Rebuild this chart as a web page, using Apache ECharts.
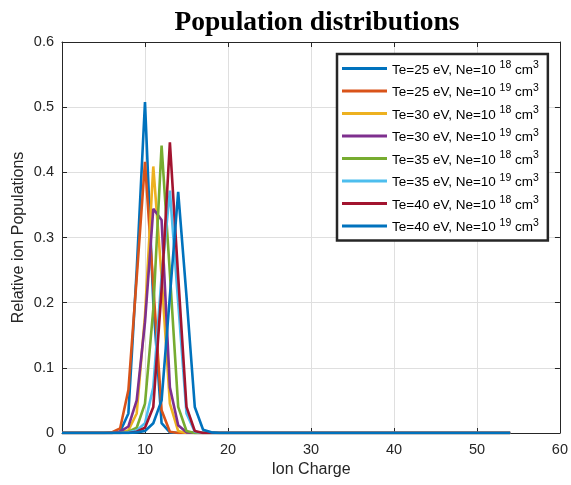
<!DOCTYPE html>
<html>
<head>
<meta charset="utf-8">
<script src="https://cdn.jsdelivr.net/npm/echarts@6/dist/echarts.min.js"></script>
<style>html,body{margin:0;padding:0;background:#fff}#c{width:571px;height:485px}</style>
</head>
<body>
<div id="c"></div>
<script>
// Ion charge states 0..54
var charges = [0,1,2,3,4,5,6,7,8,9,10,11,12,13,14,15,16,17,18,19,20,21,22,23,24,25,26,27,28,29,30,31,32,33,34,35,36,37,38,39,40,41,42,43,44,45,46,47,48,49,50,51,52,53,54];
//              0 1 2 3 4 5 6      7      8      9      10     11     12     13     14     15     16     17     18    19..54
var te25ne18 = [0,0,0,0,0,0,0,    0.002, 0.03,  0.25,  0.508, 0.2,   0.015, 0.001, 0,     0,     0,     0,     0,    0,0,0,0,0,0,0,0,0,0,0,0,0,0,0,0,0,0,0,0,0,0,0,0,0,0,0,0,0,0,0,0,0,0,0,0];
var te25ne19 = [0,0,0,0,0,0,0.001,0.007, 0.066, 0.238, 0.416, 0.225, 0.035, 0.002, 0,     0,     0,     0,     0,    0,0,0,0,0,0,0,0,0,0,0,0,0,0,0,0,0,0,0,0,0,0,0,0,0,0,0,0,0,0,0,0,0,0,0,0];
var te30ne18 = [0,0,0,0,0,0,0,    0.001, 0.004, 0.03,  0.18,  0.409, 0.24,  0.045, 0.003, 0,     0,     0,     0,    0,0,0,0,0,0,0,0,0,0,0,0,0,0,0,0,0,0,0,0,0,0,0,0,0,0,0,0,0,0,0,0,0,0,0,0];
var te30ne19 = [0,0,0,0,0,0,0,    0.002, 0.01,  0.05,  0.17,  0.344, 0.327, 0.07,  0.012, 0.001, 0,     0,     0,    0,0,0,0,0,0,0,0,0,0,0,0,0,0,0,0,0,0,0,0,0,0,0,0,0,0,0,0,0,0,0,0,0,0,0,0];
var te35ne18 = [0,0,0,0,0,0,0,    0,     0.002, 0.008, 0.045, 0.19,  0.441, 0.245, 0.04,  0.003, 0,     0,     0,    0,0,0,0,0,0,0,0,0,0,0,0,0,0,0,0,0,0,0,0,0,0,0,0,0,0,0,0,0,0,0,0,0,0,0,0];
var te35ne19 = [0,0,0,0,0,0,0,    0,     0.001, 0.004, 0.015, 0.07,  0.24,  0.372, 0.2,   0.03,  0.002, 0,     0,    0,0,0,0,0,0,0,0,0,0,0,0,0,0,0,0,0,0,0,0,0,0,0,0,0,0,0,0,0,0,0,0,0,0,0,0];
var te40ne18 = [0,0,0,0,0,0,0,    0,     0,     0.002, 0.008, 0.04,  0.22,  0.446, 0.24,  0.04,  0.003, 0,     0,    0,0,0,0,0,0,0,0,0,0,0,0,0,0,0,0,0,0,0,0,0,0,0,0,0,0,0,0,0,0,0,0,0,0,0,0];
var te40ne19 = [0,0,0,0,0,0,0,    0,     0,     0.001, 0.003, 0.015, 0.05,  0.21,  0.37,  0.21,  0.04,  0.005, 0.001,0,0,0,0,0,0,0,0,0,0,0,0,0,0,0,0,0,0,0,0,0,0,0,0,0,0,0,0,0,0,0,0,0,0,0,0];

var seriesValues = [te25ne18, te25ne19, te30ne18, te30ne19, te35ne18, te35ne19, te40ne18, te40ne19];
var teLabels = ['25','25','30','30','35','35','40','40'];
var neExponents = ['18','19','18','19','18','19','18','19'];
var colors = ['#0072BD','#D95319','#EDB120','#7E2F8E','#77AC30','#4DBEEE','#A2142F','#0072BD'];
var xTicks = [0,10,20,30,40,50,60];
var yTicks = [0,0.1,0.2,0.3,0.4,0.5,0.6];

var names = teLabels.map(function(t,i){ return 'Te=' + t + ' eV, Ne=10 ^' + neExponents[i] + '^ cm^3^'; });

var TXT = '#262626';
var chart = echarts.init(document.getElementById('c'), null, {renderer:'canvas'});

var series = seriesValues.map(function(vals, i){
  return {
    name: names[i],
    type: 'line',
    data: charges.map(function(c, j){ return [c, vals[j]]; }),
    symbol: 'none',
    lineStyle: {color: colors[i], width: 2.6},
    itemStyle: {color: colors[i]},
    xAxisIndex: 0, yAxisIndex: 0,
    animation: false,
    z: 2 + i
  };
});

var axisCommon = {
  axisLine: {show: true, onZero: false, lineStyle: {color: TXT, width: 1}},
  axisTick: {show: true, inside: true, length: 5, lineStyle: {color: TXT}},
};

chart.setOption({
  animation: false,
  title: {
    text: 'Population distributions',
    left: 312, top: 4, textAlign: 'center',
    textStyle: {fontFamily: 'Liberation Serif', fontWeight: 'bold', fontSize: 27.5, color: '#000'}
  },
  grid: {left: 62, right: 11, top: 42, bottom: 52, containLabel: false},
  xAxis: [
    Object.assign({type:'value', min: 0, max: 60, interval: 10, position:'bottom',
      name: 'Ion Charge', nameLocation: 'middle', nameGap: 29, nameMoveOverlap: false,
      nameTextStyle: {fontFamily:'Liberation Sans', fontSize: 16, color: TXT},
      axisLabel: {fontFamily:'Liberation Sans', fontSize: 14.5, color: TXT, margin: 9},
      splitLine: {show: true, lineStyle: {color: '#dfdfdf', width: 1}}}, axisCommon),
    Object.assign({type:'value', min: 0, max: 60, interval: 10, position:'top',
      axisLabel: {show:false}, splitLine: {show:false}}, axisCommon)
  ],
  yAxis: [
    Object.assign({type:'value', min: 0, max: 0.6, interval: 0.1, position:'left',
      name: 'Relative ion Populations', nameLocation: 'middle', nameGap: 35, nameMoveOverlap: false,
      nameTextStyle: {fontFamily:'Liberation Sans', fontSize: 16, color: TXT},
      axisLabel: {fontFamily:'Liberation Sans', fontSize: 14.5, color: TXT, margin: 8,
        formatter: function(v){ return yTicks.indexOf(Math.round(v*10)/10) >= 0 ? String(Math.round(v*10)/10) : ''; }},
      splitLine: {show: true, lineStyle: {color: '#dfdfdf', width: 1}}}, axisCommon),
    Object.assign({type:'value', min: 0, max: 0.6, interval: 0.1, position:'right',
      axisLabel: {show:false}, splitLine: {show:false}}, axisCommon)
  ],
  legend: {
    orient: 'vertical',
    left: 337, top: 54,
    backgroundColor: '#fff',
    borderColor: TXT, borderWidth: 2.5,
    padding: [6, 9, 6, 5],
    itemWidth: 45, itemHeight: 3, itemGap: 5.5,
    icon: 'rect',
    data: names,
    formatter: function(n){
      return n.replace(/\^(\d+)\^/g, '{sup|$1}').replace(/ cm\{sup/, ' {t|cm}{sup').replace(/^([^{]+)/, '{t|$1}');
    },
    textStyle: {
      fontFamily: 'Liberation Sans', fontSize: 13.5, color: '#000', lineHeight: 17,
      rich: {
        t: {fontFamily: 'Liberation Sans', fontSize: 13.5, color: '#000', lineHeight: 17, verticalAlign: 'bottom'},
        sup: {fontFamily: 'Liberation Sans', fontSize: 10.5, color: '#000', lineHeight: 17, verticalAlign: 'top', padding: [0,0,2,0]}
      }
    }
  },
  series: series
});
</script>
</body>
</html>
